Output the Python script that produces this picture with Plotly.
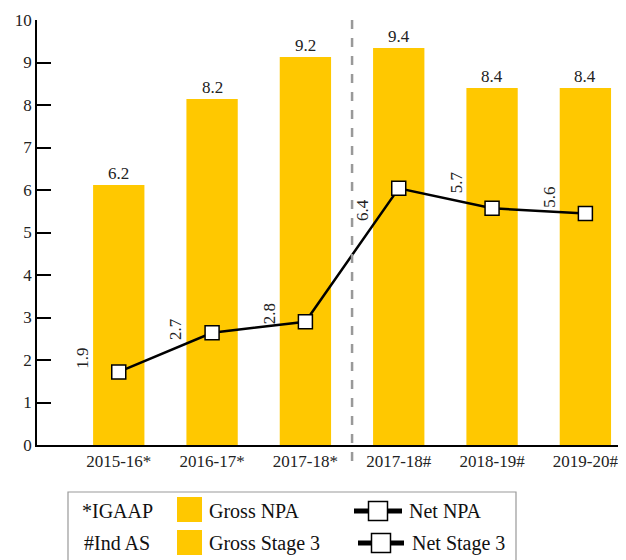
import plotly.graph_objects as go

# data
years = ["2015-16*", "2016-17*", "2017-18*", "2017-18#", "2018-19#", "2019-20#"]
gross = [6.12, 8.14, 9.13, 9.34, 8.4, 8.4]
gross_labels = ["6.2", "8.2", "9.2", "9.4", "8.4", "8.4"]
net = [1.72, 2.64, 2.9, 6.04, 5.57, 5.45]
net_labels = ["1.9", "2.7", "2.8", "6.4", "5.7", "5.6"]

FONT = "Liberation Serif"
YELLOW = "#FFC800"
OFF = 8  # body margin of the html page
W, H = 626 - OFF, 560 - OFF
L, R, T, B = 37 - OFF, 3, 20 - OFF, 115


# helpers take page pixel coordinates
def px(x):
    return (x - OFF - L) / (W - L - R)


def py(y):
    return (H - B - (y - OFF)) / (H - T - B)


xs = list(range(len(years)))

fig = go.Figure()
fig.add_trace(go.Bar(x=xs, y=gross, width=0.55, marker_color=YELLOW,
                     marker_line_width=0, showlegend=False))
fig.add_trace(go.Scatter(x=xs, y=net, mode="lines+markers", showlegend=False,
                         line=dict(color="black", width=2.5),
                         marker=dict(symbol="square", size=14, color="white",
                                     line=dict(color="black", width=1.5))))

anns = []
for i, (v, t) in enumerate(zip(gross, gross_labels)):
    anns.append(dict(x=i, y=v, text=t, showarrow=False, yanchor="bottom",
                     font=dict(size=17, color="#222", family=FONT)))
# rotated labels of the net line, sitting left of the markers
nudge = [14, 4, 8, -22, 26, 16]
for i, (v, t) in enumerate(zip(net, net_labels)):
    anns.append(dict(x=i, y=v, text=t, showarrow=False, textangle=-90,
                     xshift=-36, yshift=nudge[i],
                     font=dict(size=17, color="#222", family=FONT)))

# legend drawn by hand
lf = dict(size=20, color="#111", family=FONT)
for txt, xx, yy in [("*IGAAP", 80, 511), ("#Ind AS", 82, 543),
                    ("Gross NPA", 207, 511), ("Gross Stage 3", 207, 543),
                    ("Net NPA", 407, 511), ("Net Stage 3", 410, 543)]:
    anns.append(dict(xref="paper", yref="paper", x=px(xx), y=py(yy), text=txt,
                     showarrow=False, xanchor="left", yanchor="middle", font=lf))

shapes = [
    dict(type="line", xref="x", yref="paper", x0=2.5, x1=2.5, y0=1, y1=py(470),
         line=dict(color="#999", width=2.5, dash="dash")),
    dict(type="line", xref="paper", yref="paper", x0=1, x1=1, y0=0, y1=py(436),
         line=dict(color="black", width=1.5)),
    dict(type="rect", xref="paper", yref="paper", x0=px(68), x1=px(516),
         y0=py(492), y1=py(566), line=dict(color="#999", width=1.2)),
    dict(type="rect", xref="paper", yref="paper", x0=px(177), x1=px(202),
         y0=py(497), y1=py(522), fillcolor=YELLOW, line_width=0),
    dict(type="rect", xref="paper", yref="paper", x0=px(177), x1=px(202),
         y0=py(530), y1=py(555), fillcolor=YELLOW, line_width=0),
]
for x0, x1, yc in [(354, 402, 511), (358, 404, 543)]:
    shapes.append(dict(type="line", xref="paper", yref="paper", x0=px(x0), x1=px(x1),
                       y0=py(yc), y1=py(yc), line=dict(color="black", width=5)))
    mx = (x0 + x1) / 2
    shapes.append(dict(type="rect", xref="paper", yref="paper", x0=px(mx - 9.5),
                       x1=px(mx + 9.5), y0=py(yc - 9.5), y1=py(yc + 9.5),
                       fillcolor="white", line=dict(color="black", width=1.5)))

fig.update_layout(
    width=W, height=H,
    margin=dict(l=L, r=R, t=T, b=B),
    plot_bgcolor="white", paper_bgcolor="white",
    font=dict(family=FONT, size=17, color="#222"),
    annotations=anns, shapes=shapes,
    xaxis=dict(range=[-0.876, 5.403], tickvals=xs, ticktext=years, showgrid=False,
               showline=True, linecolor="black", linewidth=1.5, ticks="",
               zeroline=False, tickfont=dict(size=17, family=FONT)),
    yaxis=dict(range=[0, 10], dtick=1, showgrid=False, showline=True,
               linecolor="black", linewidth=1.5, ticks="inside", ticklen=14,
               tickwidth=1.5, tickcolor="black", zeroline=False,
               tickfont=dict(size=17, family=FONT)),
)

fig.write_html("out.html")
